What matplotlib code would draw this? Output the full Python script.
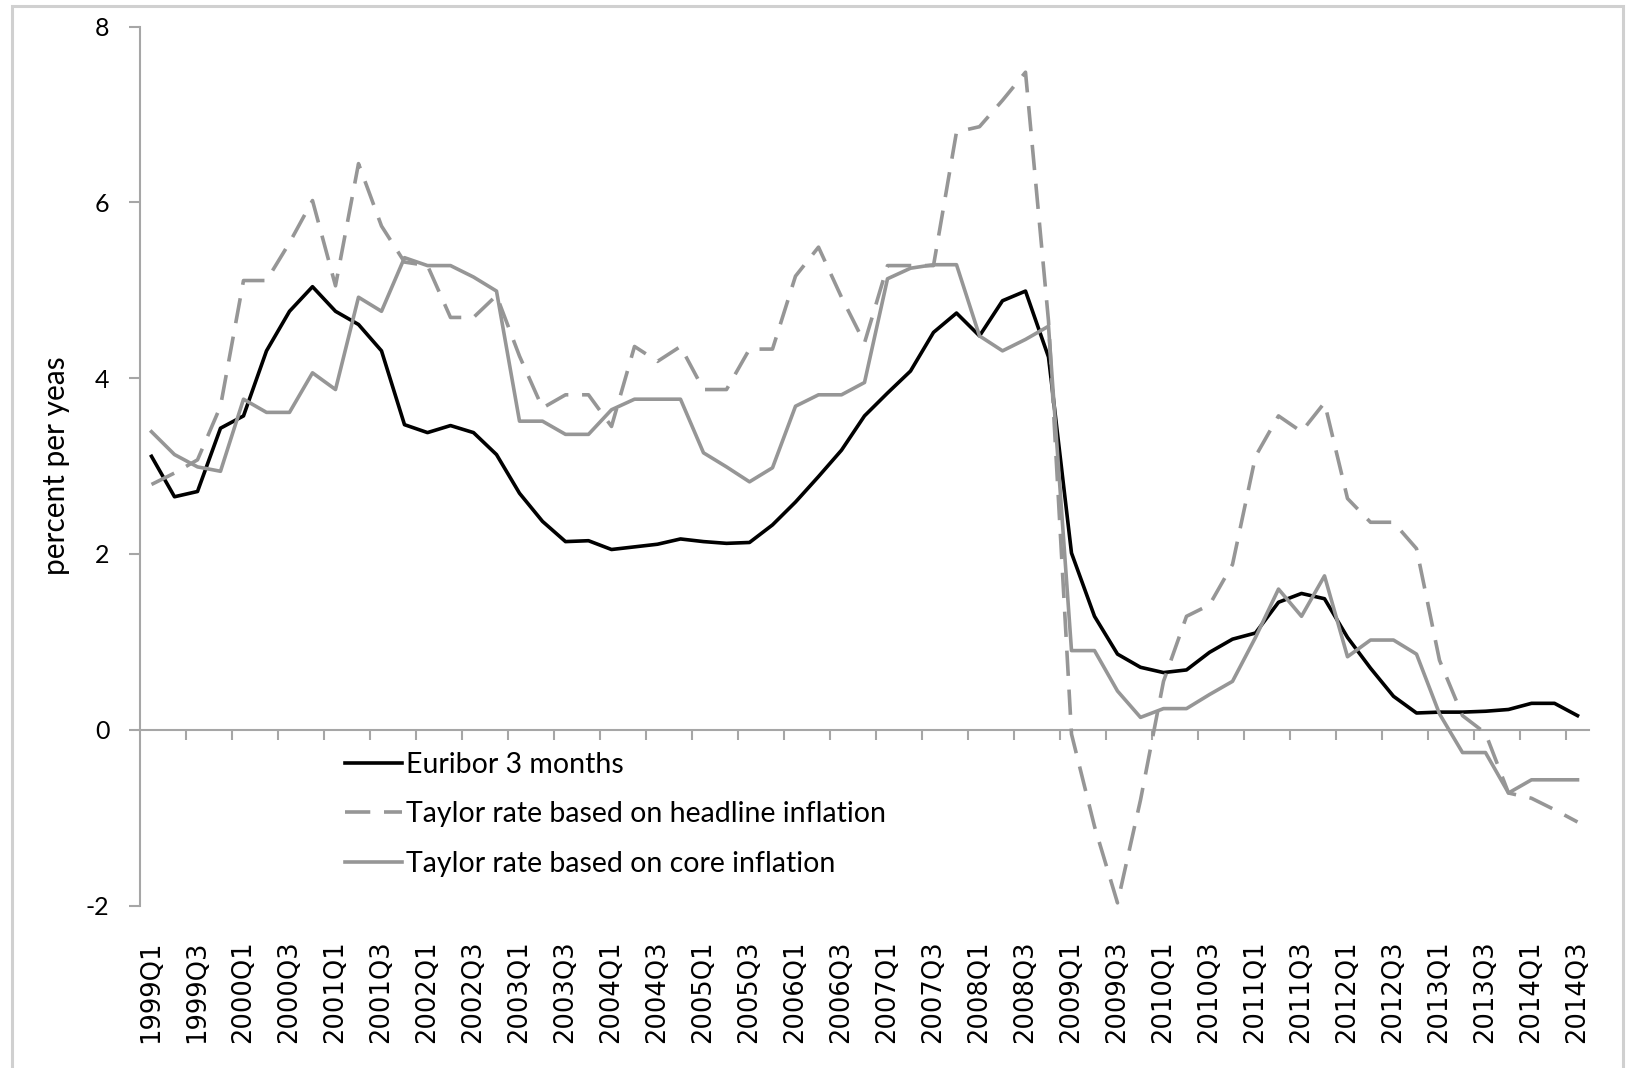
import matplotlib
matplotlib.use('Agg')
import matplotlib.pyplot as plt
from matplotlib.patches import Rectangle

# Quarters 1999Q1 .. 2014Q3
quarters = [f'{y}Q{q}' for y in range(1999, 2015) for q in range(1, 5)][:63]

euribor = [3.11, 2.65, 2.71, 3.43, 3.57, 4.31, 4.76, 5.04,
           4.76, 4.61, 4.31, 3.47, 3.38, 3.46, 3.38, 3.13,
           2.69, 2.37, 2.14, 2.15, 2.05, 2.08, 2.11, 2.17,
           2.14, 2.12, 2.13, 2.33, 2.59, 2.88, 3.18, 3.57,
           3.83, 4.08, 4.52, 4.74, 4.48, 4.88, 4.99, 4.24,
           2.01, 1.29, 0.86, 0.71, 0.65, 0.68, 0.88, 1.03,
           1.10, 1.45, 1.55, 1.49, 1.05, 0.70, 0.38, 0.19,
           0.20, 0.20, 0.21, 0.23, 0.30, 0.30, 0.16]

taylor_headline = [2.79, 2.92, 3.07, 3.68, 5.11, 5.11, 5.54, 6.02,
                   5.05, 6.44, 5.73, 5.32, 5.28, 4.69, 4.69, 4.94,
                   4.25, 3.66, 3.81, 3.81, 3.45, 4.36, 4.19, 4.36,
                   3.87, 3.87, 4.33, 4.33, 5.16, 5.49, 4.92, 4.40,
                   5.28, 5.28, 5.28, 6.80, 6.86, 7.16, 7.48, 4.65,
                   -0.05, -1.10, -1.97, -0.80, 0.55, 1.29, 1.42, 1.88,
                   3.11, 3.57, 3.39, 3.72, 2.63, 2.36, 2.36, 2.06,
                   0.79, 0.16, -0.04, -0.72, -0.78, -0.91, -1.05]

taylor_core = [3.39, 3.13, 2.99, 2.94, 3.76, 3.61, 3.61, 4.06,
               3.87, 4.92, 4.76, 5.37, 5.28, 5.28, 5.15, 4.99,
               3.51, 3.51, 3.36, 3.36, 3.64, 3.76, 3.76, 3.76,
               3.15, 2.99, 2.82, 2.98, 3.68, 3.81, 3.81, 3.95,
               5.13, 5.25, 5.29, 5.29, 4.48, 4.31, 4.44, 4.59,
               0.90, 0.90, 0.44, 0.14, 0.24, 0.24, 0.40, 0.55,
               1.05, 1.60, 1.29, 1.75, 0.83, 1.02, 1.02, 0.86,
               0.18, -0.26, -0.26, -0.72, -0.57, -0.57, -0.57]

W, H = 1626, 1068
AXIS_GRAY = '#a6a6a6'
LINE_GRAY = '#969696'
TEXT_FONT = ['Lato', 'DejaVu Sans']

fig = plt.figure(figsize=(W / 100, H / 100), dpi=100)
fig.patch.set_facecolor('white')

# chart area border (Excel style)
fig.patches.append(Rectangle((12 / W, -0.05), (1623 - 12) / W, 1.05 - 6 / H,
                             transform=fig.transFigure, fill=False,
                             edgecolor='#d0d0d0', lw=2.2, zorder=0))

ax = fig.add_axes([140 / W, 1 - 905.5 / H, 1449 / W, 879 / H])
x = list(range(len(quarters)))

ax.plot(x, euribor, color='black', lw=2.6, label='Euribor 3 months', zorder=3)
ax.plot(x, taylor_headline, color=LINE_GRAY, lw=2.6, dashes=(7, 3.8),
        label='Taylor rate based on headline inflation', zorder=4)
ax.plot(x, taylor_core, color=LINE_GRAY, lw=2.6,
        label='Taylor rate based on core inflation', zorder=5)

ax.set_xlim(-0.5, len(quarters) - 0.5)
ax.set_ylim(-2, 8)

# y axis
ax.set_yticks([-2, 0, 2, 4, 6, 8])
ax.set_yticklabels(['-2', '0', '2', '4', '6', '8'], family=TEXT_FONT, fontsize=18)
ax.tick_params(axis='y', length=8, width=1.5, color=AXIS_GRAY, pad=14)
for s in ['top', 'right', 'bottom']:
    ax.spines[s].set_visible(False)
ax.spines['left'].set_color(AXIS_GRAY)
ax.spines['left'].set_linewidth(1.5)

ax.set_ylabel('percent per yeas', family=TEXT_FONT, fontsize=21.5)
ax.yaxis.set_label_coords((70 - 140) / 1449, 0.5)

# category labels at the bottom
ax.set_xticks(x[::2])
ax.set_xticklabels(quarters[::2], rotation=90, family='DejaVu Sans', fontsize=18.5)
ax.tick_params(axis='x', length=0, pad=25)

# horizontal axis line through zero with tick marks between categories
zero_axis = ax.secondary_xaxis(0.2)
zero_axis.set_xticks([k - 0.5 for k in range(2, len(quarters), 2)])
zero_axis.tick_params(axis='x', length=7.5, width=1.5, color=AXIS_GRAY, labelbottom=False, labeltop=False)
zero_axis.spines['bottom'].set_color(AXIS_GRAY)
zero_axis.spines['bottom'].set_linewidth(1.5)
zero_axis.spines['top'].set_visible(False)

ax.legend(loc='upper left', bbox_to_anchor=(345 / W, 1 - 752 / H),
          bbox_transform=fig.transFigure, frameon=False,
          prop={'family': TEXT_FONT, 'size': 20.5},
          handlelength=2.0, handletextpad=0.14, labelspacing=0.82,
          borderpad=0, borderaxespad=0)

fig.savefig('out.png', dpi=100, facecolor='white')
